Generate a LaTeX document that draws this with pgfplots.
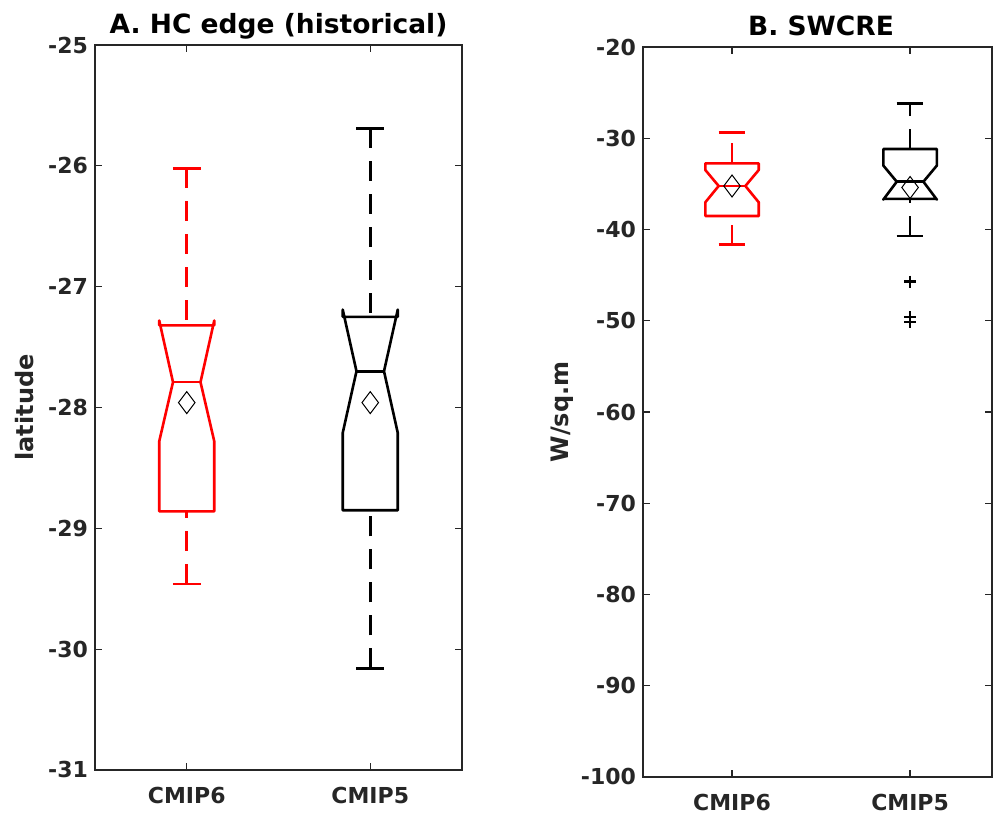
\documentclass[border=0pt]{standalone}
\usepackage{fontspec}
\setmainfont{DejaVu Sans}
\usepackage{pgfplots}
\pgfplotsset{compat=1.18}
\definecolor{axgray}{RGB}{38,38,38}
\definecolor{mlred}{RGB}{255,0,0}

\pgfplotsset{
  mlbox/.style={
    scale only axis, anchor=north west,
    xmin=0.5, xtick={1,2}, xticklabels={CMIP6,CMIP5},
    tick align=inside, major tick length=3.5pt,
    axis line style={axgray, line width=0.6pt},
    tick style={axgray, line width=0.6pt},
    tick label style={font=\fontsize{11}{13}\selectfont\bfseries, text=axgray},
    xticklabel style={yshift=-5pt},
    /pgf/number format/assume math mode=true,
    title style={font=\fontsize{13.25}{15}\selectfont\bfseries, anchor=base, yshift=0pt},
    ylabel style={font=\fontsize{12}{14}\selectfont\bfseries, text=axgray,
      at={(rel axis cs:0,0.5)}, anchor=center},
  },
  bx/.style={line width=1.3pt, line join=round, mark=none},
  wh/.style={line width=1.3pt, dash pattern=on 10pt off 6.5pt, mark=none},
  mn/.style={only marks, mark=diamond, mark size=5.5pt, black, line width=0.5pt, mark options={fill=none, solid}},
}

\begin{document}
\begin{tikzpicture}
\path[use as bounding box] (0,0) rectangle (496.5pt,-409.5pt);

% panel A
\begin{axis}[mlbox, at={(47.5pt,-22.5pt)}, width=183.5pt, height=362.5pt,
  xmax=2.5, ymin=-31, ymax=-25, ytick={-31,-30,...,-25},
  title={A. HC edge (historical)}, ylabel={latitude},
  ylabel style={yshift=35pt}]
% CMIP6
\addplot[bx, mlred] coordinates {(0.85,-28.86)(0.85,-28.28)(0.925,-27.79)(0.85,-27.28)(0.85,-27.32)
  (1.15,-27.32)(1.15,-27.28)(1.075,-27.79)(1.15,-28.28)(1.15,-28.86)} -- cycle;
\addplot[bx, mlred] coordinates {(0.925,-27.79)(1.075,-27.79)};
\addplot[wh, mlred] coordinates {(1,-26.02)(1,-27.32)};
\addplot[bx, mlred] coordinates {(0.925,-26.02)(1.075,-26.02)};
\addplot[wh, mlred] coordinates {(1,-29.46)(1,-28.86)};
\addplot[bx, mlred] coordinates {(0.925,-29.46)(1.075,-29.46)};
\addplot[mn] coordinates {(1,-27.96)};
% CMIP5
\addplot[bx, black] coordinates {(1.85,-28.85)(1.85,-28.21)(1.925,-27.70)(1.85,-27.19)(1.85,-27.25)
  (2.15,-27.25)(2.15,-27.19)(2.075,-27.70)(2.15,-28.21)(2.15,-28.85)} -- cycle;
\addplot[bx, black] coordinates {(1.925,-27.70)(2.075,-27.70)};
\addplot[wh, black] coordinates {(2,-25.69)(2,-27.25)};
\addplot[bx, black] coordinates {(1.925,-25.69)(2.075,-25.69)};
\addplot[wh, black] coordinates {(2,-30.16)(2,-28.85)};
\addplot[bx, black] coordinates {(1.925,-30.16)(2.075,-30.16)};
\addplot[mn] coordinates {(2,-27.96)};
\end{axis}

% panel B
\begin{axis}[mlbox, at={(321.5pt,-23.5pt)}, width=174.5pt, height=365pt,
  xmax=2.46, ymin=-100, ymax=-20, ytick={-100,-90,...,-20},
  title={B. SWCRE}, title style={xshift=1.75pt}, ylabel={W/sq.m},
  ylabel style={yshift=40.5pt}]
% CMIP6
\addplot[bx, mlred] coordinates {(0.85,-38.52)(0.85,-37.02)(0.925,-35.23)(0.85,-33.48)(0.85,-32.75)
  (1.15,-32.75)(1.15,-33.48)(1.075,-35.23)(1.15,-37.02)(1.15,-38.52)} -- cycle;
\addplot[bx, mlred] coordinates {(0.925,-35.23)(1.075,-35.23)};
\addplot[wh, mlred] coordinates {(1,-32.75)(1,-29.35)};
\addplot[bx, mlred] coordinates {(0.925,-29.35)(1.075,-29.35)};
\addplot[wh, mlred] coordinates {(1,-41.66)(1,-38.52)};
\addplot[bx, mlred] coordinates {(0.925,-41.66)(1.075,-41.66)};
\addplot[mn] coordinates {(1,-35.23)};
% CMIP5
\addplot[bx, black] coordinates {(1.85,-36.65)(1.85,-36.72)(1.925,-34.76)(1.85,-33.0)(1.85,-31.18)
  (2.15,-31.18)(2.15,-33.0)(2.075,-34.76)(2.15,-36.72)(2.15,-36.65)} -- cycle;
\addplot[bx, black] coordinates {(1.925,-34.76)(2.075,-34.76)};
\addplot[wh, black] coordinates {(2,-31.18)(2,-26.17)};
\addplot[bx, black] coordinates {(1.925,-26.17)(2.075,-26.17)};
\addplot[wh, black] coordinates {(2,-40.7)(2,-36.65)};
\addplot[bx, black] coordinates {(1.925,-40.7)(2.075,-40.7)};
\addplot[only marks, mark=+, mark size=3pt, black, line width=1.3pt] coordinates {(2,-45.7)(2,-49.6)(2,-50.15)};
\addplot[mn] coordinates {(2,-35.4)};
\end{axis}
\end{tikzpicture}
\end{document}
